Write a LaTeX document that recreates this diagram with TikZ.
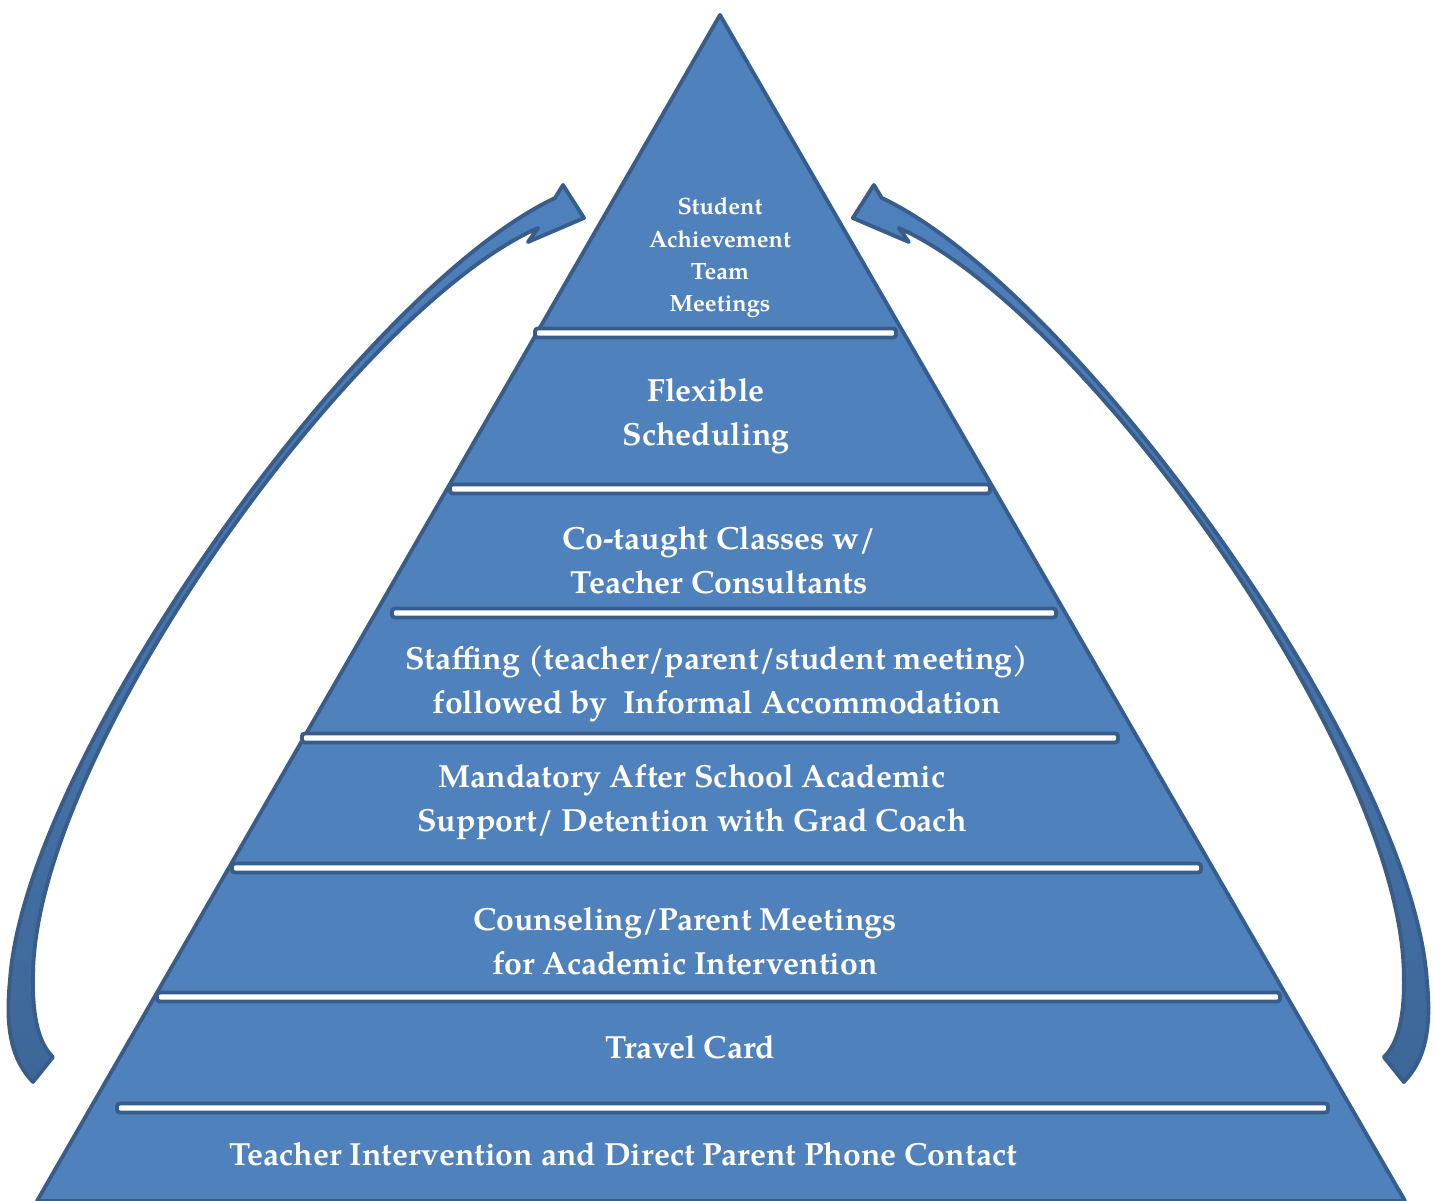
\documentclass[tikz,border=0pt]{standalone}
\usepackage{fontspec}
\setmainfont{TeX Gyre Pagella}
\definecolor{pyrfill}{HTML}{4F81BD}
\definecolor{pyrline}{HTML}{385D8A}
\definecolor{arrdark}{HTML}{3E6798}
\begin{document}
\begin{tikzpicture}[x=0.01cm,y=-0.01cm,
  tier/.style={text=white, font=\bfseries\fontsize{9.1}{12.5}\selectfont, align=center},
  small/.style={text=white, font=\bfseries\fontsize{6.7}{9.2}\selectfont, align=center},
  bar/.style={draw=pyrline, fill=white, line width=1.1pt, rounded corners=0.8pt},
  curvearrow/.style={draw=pyrline, line width=1.1pt, line join=round, top color=pyrfill, bottom color=arrdark}]
\useasboundingbox (0,0) rectangle (1434,1201);
\draw[pyrline, fill=pyrfill, line width=1.1pt, line join=round] (720,15) -- (1405,1201) -- (37,1201) -- cycle;
\foreach \y/\xa/\xb in {333/535/896, 489/450/990, 613/392/1056, 738/302/1118, 868/232/1201, 997/157/1280, 1108/117/1328}
  \draw[bar] ({\xa},{\y-4.5}) rectangle ({\xb},{\y+4.5});
\path[curvearrow] (33,1082) .. controls (12,1060) and (5,1030) .. (10,980)
  .. controls (25,760) and (360,290) .. (555,198)
  -- (563,185) -- (584,218) -- (528,242) -- (538,228)
  .. controls (356,308) and (35,752) .. (33,975)
  .. controls (32,1020) and (40,1045) .. (53,1057) -- cycle;
\begin{scope}[xshift=14.36cm, xscale=-1]
\path[curvearrow] (33,1082) .. controls (12,1060) and (5,1030) .. (10,980)
  .. controls (25,760) and (360,290) .. (555,198)
  -- (563,185) -- (584,218) -- (528,242) -- (538,228)
  .. controls (356,308) and (35,752) .. (33,975)
  .. controls (32,1020) and (40,1045) .. (53,1057) -- cycle;
\end{scope}
\node(team) at (720,258) [small]{Student\\Achievement\\Team\\Meetings};
\node(flex) at (706,416) [tier]{Flexible\\Scheduling};
\node(cotaught) at (719,560) [tier]{Co-taught Classes w/\\Teacher Consultants};
\node(staffing) at (717,684) [tier]{Staffing (teacher/parent/student meeting)\\followed by~~Informal Accommodation};
\node(mandatory) at (692,802) [tier]{Mandatory After School Academic\\Support/ Detention with Grad Coach};
\node(counsel) at (685,941) [tier]{Counseling/Parent Meetings\\for Academic Intervention};
\node(travel) at (690,1047) [tier]{Travel Card};
\node(teacher) at (623,1154) [tier]{Teacher Intervention and Direct Parent Phone Contact};
\end{tikzpicture}
\end{document}
